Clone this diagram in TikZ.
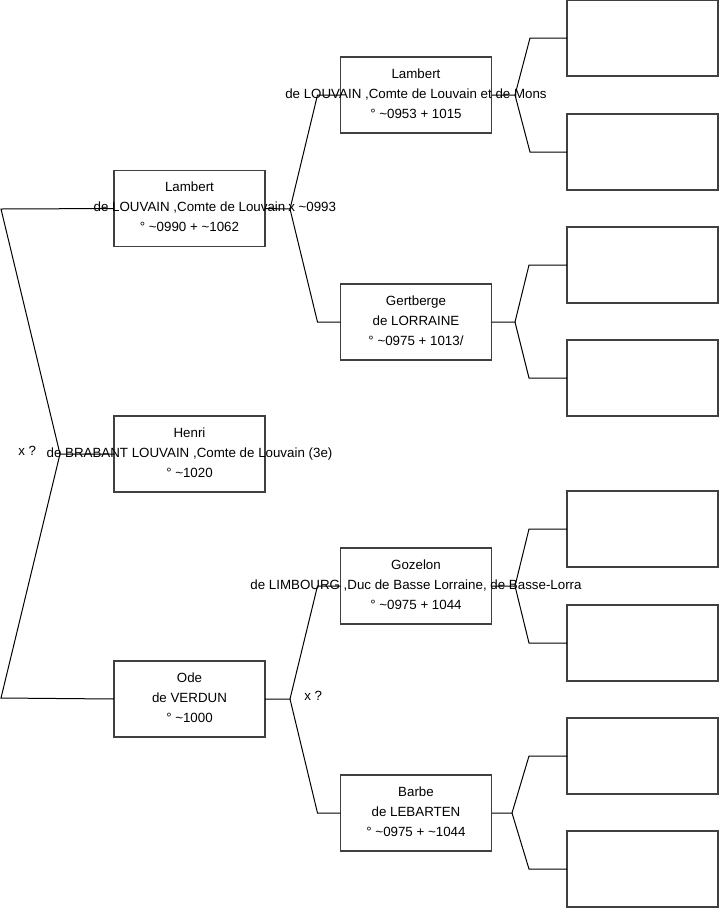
\documentclass[tikz,border=0pt]{standalone}
\usepackage{fontspec}
\setmainfont{Liberation Sans}
\usetikzlibrary{calc}

\tikzset{
  person/.style={draw=black!75, line width=0.9pt, minimum width=113.25pt, minimum height=57pt, inner sep=0pt, outer sep=0pt},
  persontext/.style={font=\fontsize{10}{15}\selectfont, align=center, inner sep=0pt},
  link/.style={draw=black, line width=0.75pt},
  unionlabel/.style={font=\fontsize{10}{12}\selectfont, inner sep=0pt}
}

\begin{document}
\begin{tikzpicture}[x=0.75pt, y=-0.75pt]
  \useasboundingbox (0,0) rectangle (719,908);
  % Generation 1
  \node[person] (lambertA) at (189.5,208.5) {};
  \node[persontext] at ($(lambertA.center)+(0,-1.5)$) {Lambert\\de LOUVAIN ,Comte de Louvain\\° \textasciitilde0990 + \textasciitilde1062};
  \node[person] (henri) at (189.5,454) {};
  \node[persontext] at ($(henri.center)+(0,-1.5)$) {Henri\\de BRABANT LOUVAIN ,Comte de Louvain (3e)\\° \textasciitilde1020};
  \node[person] (ode) at (189.5,699) {};
  \node[persontext] at ($(ode.center)+(0,-1.5)$) {Ode\\de VERDUN\\° \textasciitilde1000};
  % Generation 2
  \node[person] (lambertB) at (416,95) {};
  \node[persontext] at ($(lambertB.center)+(0,-1.5)$) {Lambert\\de LOUVAIN ,Comte de Louvain et de Mons\\° \textasciitilde0953 + 1015};
  \node[person] (gertberge) at (416,322) {};
  \node[persontext] at ($(gertberge.center)+(0,-1.5)$) {Gertberge\\de LORRAINE\\° \textasciitilde0975 + 1013/};
  \node[person] (gozelon) at (416,586) {};
  \node[persontext] at ($(gozelon.center)+(0,-1.5)$) {Gozelon\\de LIMBOURG ,Duc de Basse Lorraine, de Basse-Lorra\\° \textasciitilde0975 + 1044};
  \node[person] (barbe) at (416,813) {};
  \node[persontext] at ($(barbe.center)+(0,-1.5)$) {Barbe\\de LEBARTEN\\° \textasciitilde0975 + \textasciitilde1044};
  % Generation 3 (empty)
  \foreach \name/\ypos in {pa/38, pb/152, pc/265, pd/378, pe/529, pf/643, pg/756, ph/869}
    \node[person] (\name) at (642.5,\ypos) {};
  % Unions
  \node[unionlabel, anchor=west] (unionA) at (288,207) {x \textasciitilde0993};
  \node[unionlabel, anchor=west] (unionB) at (18,451) {x ?};
  \node[unionlabel, anchor=west] (unionC) at (304,696) {x ?};
  % Links
  \coordinate (vHenri) at (60,454);
  \draw[link] (henri.west) -- (vHenri) -- (1,209) -- (lambertA.west);
  \draw[link] (vHenri) -- (1,698) -- (ode.west);
  \coordinate (vLambertA) at (290,209);
  \draw[link] (lambertA.east) -- (vLambertA) -- ($(lambertB.west)+(-23,0)$) -- (lambertB.west);
  \draw[link] (vLambertA) -- ($(gertberge.west)+(-23,0)$) -- (gertberge.west);
  \coordinate (vOde) at (290,699);
  \draw[link] (ode.east) -- (vOde) -- ($(gozelon.west)+(-23,0)$) -- (gozelon.west);
  \draw[link] (vOde) -- ($(barbe.west)+(-23,0)$) -- (barbe.west);
  \coordinate (vLambertB) at (515,95);
  \draw[link] (lambertB.east) -- (vLambertB) -- ($(pa.west)+(-37,0)$) -- (pa.west);
  \draw[link] (vLambertB) -- ($(pb.west)+(-37,0)$) -- (pb.west);
  \coordinate (vGertberge) at (515,322);
  \draw[link] (gertberge.east) -- (vGertberge) -- ($(pc.west)+(-38,0)$) -- (pc.west);
  \draw[link] (vGertberge) -- ($(pd.west)+(-38,0)$) -- (pd.west);
  \coordinate (vGozelon) at (515,586);
  \draw[link] (gozelon.east) -- (vGozelon) -- ($(pe.west)+(-38,0)$) -- (pe.west);
  \draw[link] (vGozelon) -- ($(pf.west)+(-38,0)$) -- (pf.west);
  \coordinate (vBarbe) at (512,813);
  \draw[link] (barbe.east) -- (vBarbe) -- ($(pg.west)+(-38,0)$) -- (pg.west);
  \draw[link] (vBarbe) -- ($(ph.west)+(-38,0)$) -- (ph.west);
\end{tikzpicture}
\end{document}
